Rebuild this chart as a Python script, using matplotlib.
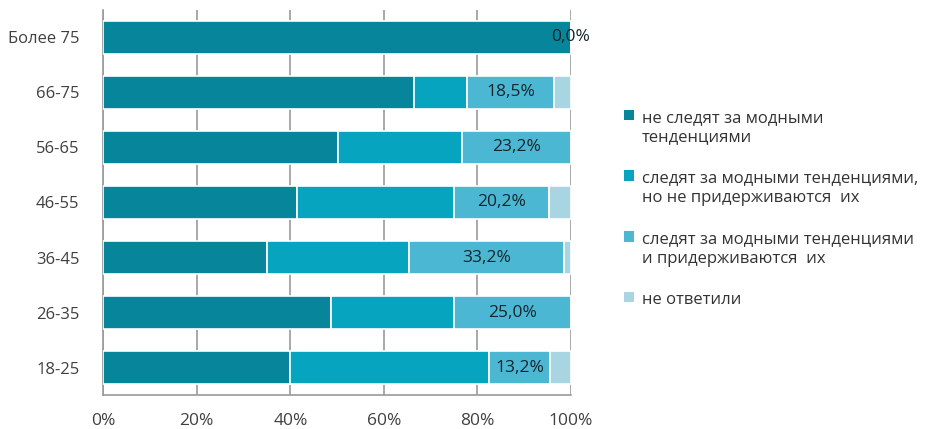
import matplotlib
matplotlib.use("Agg")
import matplotlib.pyplot as plt
from matplotlib.patches import Patch
import numpy as np

categories = ["Более 75", "66-75", "56-65", "46-55", "36-45", "26-35", "18-25"]
series_names = [
    "не следят за модными\nтенденциями",
    "следят за модными тенденциями,\nно не придерживаются  их",
    "следят за модными тенденциями\nи придерживаются  их",
    "не ответили",
]
not_follow = [100.0, 66.4, 50.2, 41.4, 35.1, 48.6, 40.0]
follow_not_adhere = [0.0, 11.4, 26.6, 33.6, 30.3, 26.4, 42.4]
follow_adhere = [0.0, 18.5, 23.2, 20.2, 33.2, 25.0, 13.2]
no_answer = [0.0, 3.7, 0.0, 4.8, 1.4, 0.0, 4.4]
label_texts = ["0,0%", "18,5%", "23,2%", "20,2%", "33,2%", "25,0%", "13,2%"]
xticks = [0, 20, 40, 60, 80, 100]
xtick_labels = ["0%", "20%", "40%", "60%", "80%", "100%"]

colors = ["#07869b", "#06a4bf", "#4cb7d3", "#a9d5e2"]

plt.rcParams["font.family"] = ["Open Sans", "DejaVu Sans"]

fig = plt.figure(figsize=(9.30, 4.29), dpi=100)
ax = fig.add_axes([0.111, 0.079, 0.503, 0.898])

y = np.arange(len(categories))
data = [not_follow, follow_not_adhere, follow_adhere, no_answer]
left = np.zeros(len(categories))
bars = []
for vals, c in zip(data, colors):
    v = np.array(vals)
    b = ax.barh(y, v, left=left, height=0.6, color=c, edgecolor="white",
                linewidth=1.2, zorder=3)
    bars.append(b)
    left = left + v

# labels on third series
for rect, txt in zip(bars[2], label_texts):
    cx = rect.get_x() + rect.get_width() / 2
    cy = rect.get_y() + rect.get_height() / 2
    ax.text(cx, cy, txt, ha="center", va="center", fontsize=12.5,
            color="#14252b", zorder=5)

ax.set_xlim(0, 100)
ax.set_ylim(len(categories) - 0.5, -0.5)
ax.set_xticks(xticks)
ax.set_xticklabels(xtick_labels, fontsize=12.5, color="#404040")
ax.set_yticks(y)
ax.set_yticklabels(categories, fontsize=12, color="#404040")
ax.tick_params(axis="both", length=0)
ax.tick_params(axis="x", pad=13)
ax.tick_params(axis="y", pad=17)
ax.grid(axis="x", color="#9a9a9a", linewidth=1.2, zorder=0)
for s in ["top", "right"]:
    ax.spines[s].set_visible(False)
for s in ["left", "bottom"]:
    ax.spines[s].set_color("#9a9a9a")
    ax.spines[s].set_linewidth(1.2)

handles = [Patch(facecolor=c, edgecolor="none") for c in colors]
leg = fig.legend(handles, series_names, loc="upper left",
                 bbox_to_anchor=(0.655, 0.779), frameon=False, fontsize=12,
                 handlelength=0.6, handleheight=0.6, handletextpad=0.45,
                 labelspacing=1.5, labelcolor="#333333")
for t in leg.get_texts():
    t.set_linespacing(1.3)
for col in leg._legend_handle_box.get_children():
    for hp in col.get_children():
        hp.align = "top"

fig.savefig("out.png", dpi=100, facecolor="white")
